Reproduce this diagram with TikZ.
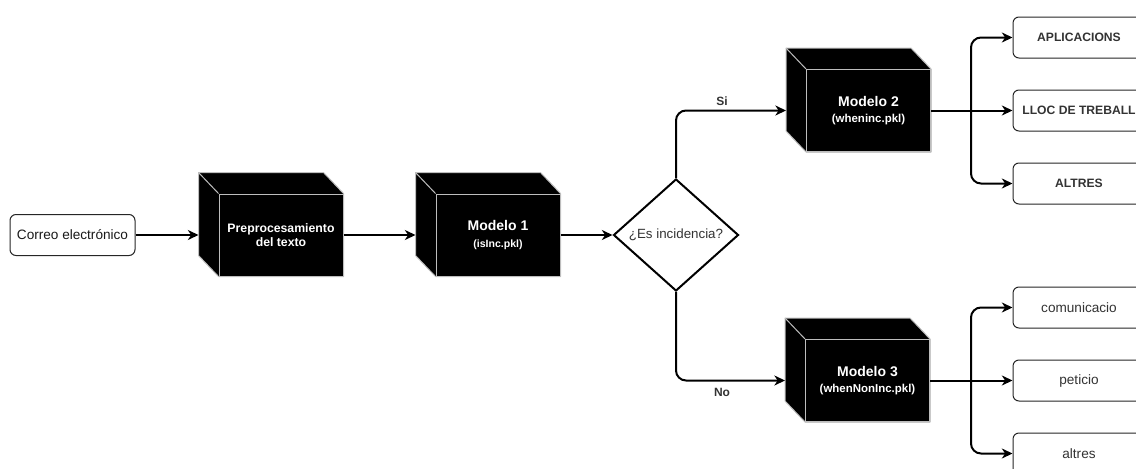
\documentclass[tikz,border=0pt]{standalone}
\usepackage{fontspec}
\setmainfont{Liberation Sans}
\usetikzlibrary{shapes.geometric,arrows.meta,backgrounds}
\definecolor{txt}{HTML}{333333}
\definecolor{edge}{HTML}{BDBDBD}
\newcommand{\cubeback}[1]{%
  \begin{pgfonlayer}{background}
  \filldraw[fill=black,draw=edge,line width=0.75pt,line join=round]
    (#1.south west) -- ++(-20,-21) -- ([shift={(-20,-21)}]#1.north west)
    -- ([shift={(-20,-21)}]#1.north east) -- (#1.north east) -- (#1.south east) -- cycle;
  \draw[edge,line width=0.75pt] (#1.north west) -- ++(-20,-21);
  \end{pgfonlayer}
}
\begin{document}
\begin{tikzpicture}[x=0.75pt,y=-0.75pt,
  arr/.style={line width=1.5pt,-{Stealth[length=8pt,width=7.5pt,inset=2.5pt]},rounded corners=7.5pt},
  rbox/.style={draw=black!85,line width=0.75pt,rounded corners=4.5pt,fill=white,
    minimum width=99pt,minimum height=30.75pt,inner sep=0pt,text=txt},
  upl/.style={rbox,font=\fontsize{9.1}{11}\selectfont\bfseries},
  lowl/.style={rbox,font=\fontsize{10.2}{12}\selectfont},
  cubef/.style={draw=edge,fill=black,line width=0.75pt,minimum width=93pt,minimum height=61.5pt,
    inner sep=0pt,text=white,align=center,font=\bfseries},
  lbl/.style={font=\fontsize{9}{11}\selectfont\bfseries,text=txt,inner sep=0pt}]
\useasboundingbox (0,0) rectangle (1136,468);
\clip (0,0) rectangle (1136,468);

\node[rbox,minimum width=93.75pt,text=black!90,font=\fontsize{10.2}{12}\selectfont] (cor) at (72.5,235) {Correo electrónico};

\node[cubef,font=\fontsize{9.2}{10}\selectfont\bfseries] (pre) at (281,235) {Preprocesamiento\\del texto};
\cubeback{pre}
\node[cubef] (m1) at (498,235) {\fontsize{10.5}{11}\selectfont Modelo 1\\[0.5pt]\fontsize{7.9}{9}\selectfont (isInc.pkl)};
\cubeback{m1}
\node[cubef] (m2) at (868.5,110.5) {\fontsize{10.5}{11}\selectfont Modelo 2\\[0.5pt]\fontsize{8.6}{9}\selectfont (wheninc.pkl)};
\cubeback{m2}
\node[cubef] (m3) at (867.5,380.5) {\fontsize{10.5}{11}\selectfont Modelo 3\\[0.5pt]\fontsize{8.6}{9}\selectfont (whenNonInc.pkl)};
\cubeback{m3}

\node[diamond,draw=black,line width=1.5pt,fill=white,minimum width=93.75pt,minimum height=84pt,
  inner sep=0pt,text=txt,font=\fontsize{10}{12}\selectfont] (dia) at (676,235) {¿Es incidencia?};

\node[upl] (o1) at (1079,37.5) {APLICACIONS};
\node[upl] (o2) at (1079,110.5) {LLOC DE TREBALL};
\node[upl] (o3) at (1079,183.5) {ALTRES};
\node[lowl] (o4) at (1079,307.5) {comunicacio};
\node[lowl] (o5) at (1079,380.5) {peticio};
\node[lowl] (o6) at (1079,453.5) {altres};

\coordinate (b1) at (971,110.5);
\coordinate (b2) at (971,380.5);

\draw[arr] (cor.east) -- ([xshift=-15pt]pre.west);
\draw[arr] (pre.east) -- ([xshift=-15pt]m1.west);
\draw[arr] (m1.east) -- (dia.west);
\draw[arr] (dia.north) |- ([xshift=-15pt]m2.west);
\draw[arr] (dia.south) |- ([xshift=-15pt]m3.west);
\node[lbl] (si) at (722,101) {Si};
\node[lbl] (no) at (722,392) {No};

\draw[arr] (m2.east) -- (o2.west);
\draw[arr] (b1) |- (o1.west);
\draw[arr] (b1) |- (o3.west);
\draw[arr] (m3.east) -- (o5.west);
\draw[arr] (b2) |- (o4.west);
\draw[arr] (b2) |- (o6.west);
\end{tikzpicture}
\end{document}
